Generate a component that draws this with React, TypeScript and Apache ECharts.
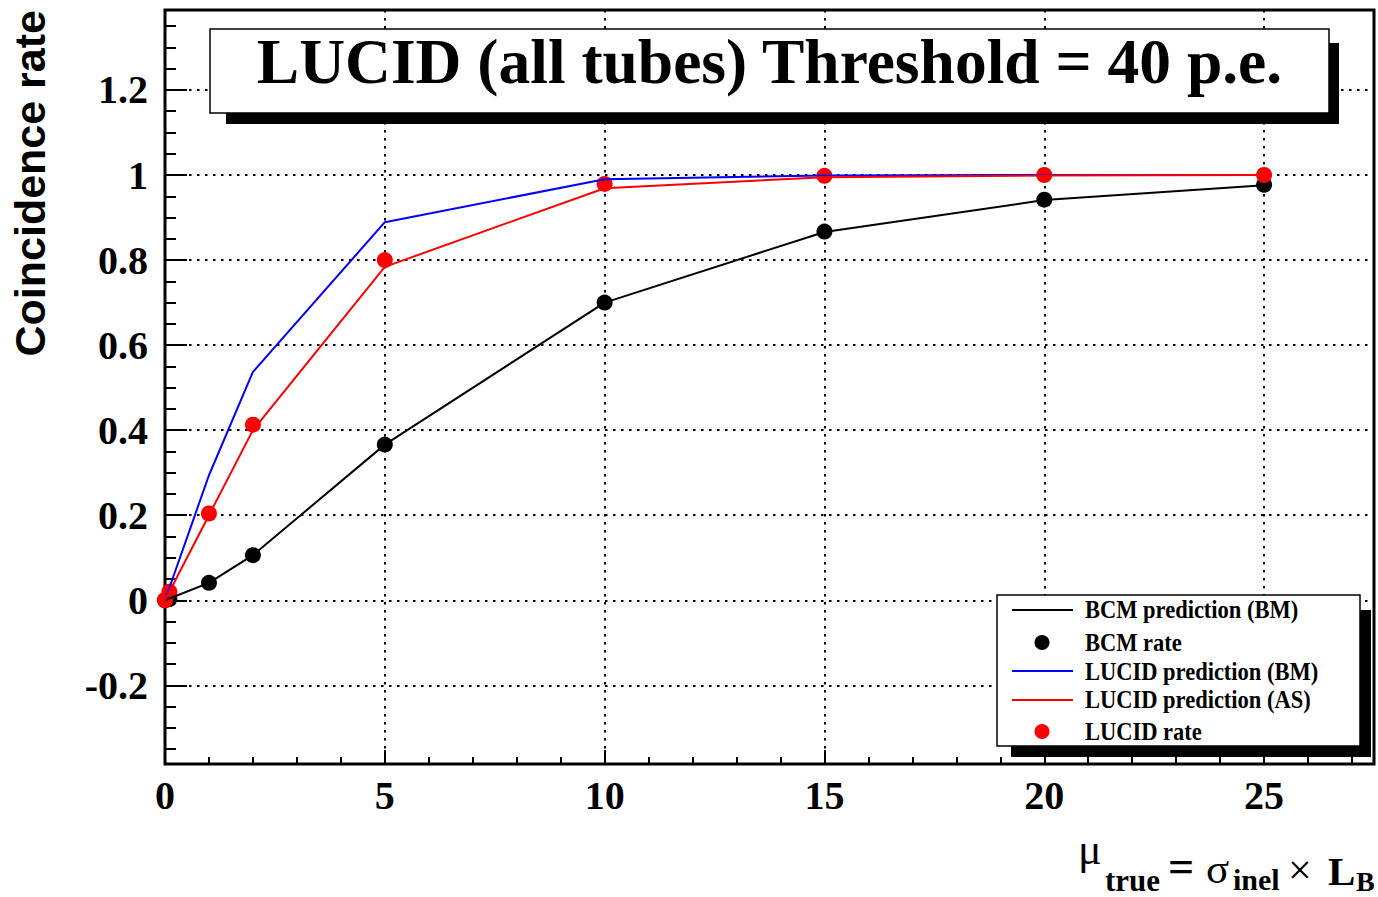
import React, { useEffect, useRef } from 'react';
import * as echarts from 'echarts';

// ---- data ----
const xPred = [0, 1, 2, 5, 10, 15, 20, 25];
const bcmPrediction = [0, 0.041, 0.106, 0.366, 0.7, 0.866, 0.941, 0.976];
const lucidPredictionBM = [0, 0.294, 0.537, 0.889, 0.99, 0.999, 1.0, 1.0];
const lucidPredictionAS = [0, 0.2, 0.4, 0.784, 0.969, 0.995, 0.999, 1.0];
const xRate = [0, 0.1, 1, 2, 5, 10, 15, 20, 25];
const bcmRate = [0, 0.003, 0.041, 0.106, 0.366, 0.7, 0.867, 0.942, 0.977];
const lucidRate = [0, 0.02, 0.204, 0.413, 0.8, 0.979, 0.998, 1.0, 1.0];

const xMajorTicks = [0, 5, 10, 15, 20, 25];
const xMinorTicks = [1, 2, 3, 4, 6, 7, 8, 9, 11, 12, 13, 14, 16, 17, 18, 19, 21, 22, 23, 24, 26, 27];
const yMajorTicks = [-0.2, 0, 0.2, 0.4, 0.6, 0.8, 1, 1.2];
const yMinorTicks = [-0.35, -0.3, -0.25, -0.15, -0.1, -0.05, 0.05, 0.1, 0.15, 0.25, 0.3, 0.35, 0.45, 0.5, 0.55, 0.65, 0.7, 0.75, 0.85, 0.9, 0.95, 1.05, 1.1, 1.15, 1.25, 1.3, 1.35];

const titleText = 'LUCID (all tubes) Threshold = 40 p.e.';
const yTitle = 'Coincidence rate';
const legendNames = ['BCM prediction (BM)', 'BCM rate', 'LUCID prediction (BM)', 'LUCID prediction (AS)', 'LUCID rate'];
const legendKinds = ['line', 'marker', 'line', 'line', 'marker'];
const legendColors = ['#000000', '#000000', '#0000ff', '#ff0000', '#ff0000'];

const SERIF = '"Liberation Serif", "Times New Roman", serif';
const SANS = '"Liberation Sans", Arial, sans-serif';

export default function App() {
  const ref = useRef<HTMLDivElement>(null);

  useEffect(() => {
    if (!ref.current) return;
    const chart = echarts.init(ref.current, null, { renderer: 'svg' });

    const gridLine = { show: true, lineStyle: { color: '#000', width: 2, type: [2.5, 5.5] as any } };

    // legend graphic
    const legendRowY = [610, 642.5, 671, 700, 731.5];
    const legendTextBase = [618, 651.5, 680, 708.5, 740];
    const legendEls: any[] = [
      { type: 'rect', shape: { x: 1011, y: 610, width: 360, height: 147 }, style: { fill: '#000' }, z: 100 },
      { type: 'rect', shape: { x: 997, y: 595, width: 363, height: 151 }, style: { fill: '#fff', stroke: '#000', lineWidth: 1.5 }, z: 101 },
    ];
    legendNames.forEach((name, i) => {
      const y = legendRowY[i];
      if (legendKinds[i] === 'line') {
        legendEls.push({ type: 'line', shape: { x1: 1012, y1: y, x2: 1073, y2: y }, style: { stroke: legendColors[i], lineWidth: 2 }, z: 102 });
      } else {
        legendEls.push({ type: 'circle', shape: { cx: 1042, cy: y, r: 7.5 }, style: { fill: legendColors[i] }, z: 102 });
      }
      legendEls.push({
        type: 'text', x: 1085, y: legendTextBase[i] - 0.3375 * 25, scaleX: 0.9, z: 102,
        style: { text: name, x: 0, y: 0, fill: '#000', font: `bold 25px ${SERIF}`, align: 'left', verticalAlign: 'middle' },
      });
    });

    // x-axis title pieces (x, baseline, size, weight)
    const xTitleParts = [
      { t: 'μ', x: 1078, b: 864, s: 44, w: 'normal' },
      { t: 'true', x: 1105, b: 891, s: 31, w: 'bold' },
      { t: '=', x: 1168, b: 882, s: 46, w: 'bold' },
      { t: 'σ', x: 1206, b: 883, s: 43, w: 'normal' },
      { t: 'inel', x: 1233, b: 890, s: 30, w: 'bold' },
      { t: '×', x: 1288, b: 884, s: 42, w: 'normal' },
      { t: 'L', x: 1328, b: 885, s: 41, w: 'bold' },
      { t: 'B', x: 1356, b: 891, s: 28, w: 'bold' },
    ];
    const xTitleEls = xTitleParts.map((p) => ({
      type: 'text', x: p.x, y: p.b - 0.3375 * p.s, z: 100,
      style: { text: p.t, fill: '#000', font: `${p.w} ${p.s}px ${SERIF}`, align: 'left', verticalAlign: 'middle' },
    }));

    const option: any = {
      animation: false,
      backgroundColor: '#fff',
      grid: { left: 165, top: 10, right: 4, bottom: 133, show: true, borderColor: '#000', borderWidth: 3, backgroundColor: 'transparent', containLabel: false },
      xAxis: [
        {
          type: 'value', min: 0, max: 27.5, position: 'bottom',
          axisLine: { show: false, onZero: false },
          axisTick: { show: true, inside: true, length: 14, customValues: xMajorTicks, lineStyle: { color: '#000', width: 2 } },
          axisLabel: { show: true, customValues: xMajorTicks, margin: 11, color: '#000', fontFamily: SERIF, fontWeight: 'bold', fontSize: 40 },
          splitLine: gridLine,
        },
        {
          type: 'value', min: 0, max: 27.5, position: 'bottom',
          axisLine: { show: false, onZero: false },
          axisTick: { show: true, inside: true, length: 7, customValues: xMinorTicks, lineStyle: { color: '#000', width: 2 } },
          axisLabel: { show: false },
          splitLine: { show: false },
        },
      ],
      yAxis: [
        {
          type: 'value', min: -0.385, max: 1.388, position: 'left',
          axisLine: { show: false, onZero: false },
          axisTick: { show: true, inside: true, length: 22, customValues: yMajorTicks, lineStyle: { color: '#000', width: 2 } },
          axisLabel: { show: true, customValues: yMajorTicks, margin: 17, color: '#000', fontFamily: SERIF, fontWeight: 'bold', fontSize: 40 },
          splitLine: gridLine,
        },
        {
          type: 'value', min: -0.385, max: 1.388, position: 'left',
          axisLine: { show: false, onZero: false },
          axisTick: { show: true, inside: true, length: 11, customValues: yMinorTicks, lineStyle: { color: '#000', width: 2 } },
          axisLabel: { show: false },
          splitLine: { show: false },
        },
      ],
      series: [
        {
          name: legendNames[0], type: 'line', xAxisIndex: 0, yAxisIndex: 0, symbol: 'none',
          data: xPred.map((x, i) => [x, bcmPrediction[i]]),
          lineStyle: { color: '#000', width: 2 }, clip: false,
        },
        {
          name: legendNames[1], type: 'scatter', xAxisIndex: 0, yAxisIndex: 0, symbolSize: 16,
          data: xRate.map((x, i) => [x, bcmRate[i]]),
          itemStyle: { color: '#000', opacity: 1 }, clip: false,
        },
        {
          name: legendNames[2], type: 'line', xAxisIndex: 0, yAxisIndex: 0, symbol: 'none',
          data: xPred.map((x, i) => [x, lucidPredictionBM[i]]),
          lineStyle: { color: '#0000ff', width: 2 }, clip: false,
        },
        {
          name: legendNames[3], type: 'line', xAxisIndex: 0, yAxisIndex: 0, symbol: 'none',
          data: xPred.map((x, i) => [x, lucidPredictionAS[i]]),
          lineStyle: { color: '#ff0000', width: 2 }, clip: false,
        },
        {
          name: legendNames[4], type: 'scatter', xAxisIndex: 0, yAxisIndex: 0, symbolSize: 16,
          data: xRate.map((x, i) => [x, lucidRate[i]]),
          itemStyle: { color: '#ff0000', opacity: 1 }, clip: false,
        },
      ],
      graphic: [
        // title box
        { type: 'rect', shape: { x: 226, y: 43, width: 1113, height: 81 }, style: { fill: '#000' }, z: 100 },
        { type: 'rect', shape: { x: 210, y: 29, width: 1119, height: 84 }, style: { fill: '#fff', stroke: '#000', lineWidth: 1.5 }, z: 101 },
        {
          type: 'text', x: 769.5, y: 83 - 0.3375 * 63.5, z: 102,
          style: { text: titleText, fill: '#000', font: `bold 63.5px ${SERIF}`, align: 'center', verticalAlign: 'middle' },
        },
        ...legendEls,
        // y-axis title
        {
          type: 'text', x: 30, y: 10, rotation: Math.PI / 2, z: 100,
          style: { text: yTitle, fill: '#000', font: `bold 43px ${SANS}`, align: 'right', verticalAlign: 'middle' },
        },
        ...xTitleEls,
      ],
    };

    chart.setOption(option);
    return () => chart.dispose();
  }, []);

  return <div ref={ref} style={{ position: 'fixed', left: 0, top: 0, width: 1378, height: 897 }} />;
}
